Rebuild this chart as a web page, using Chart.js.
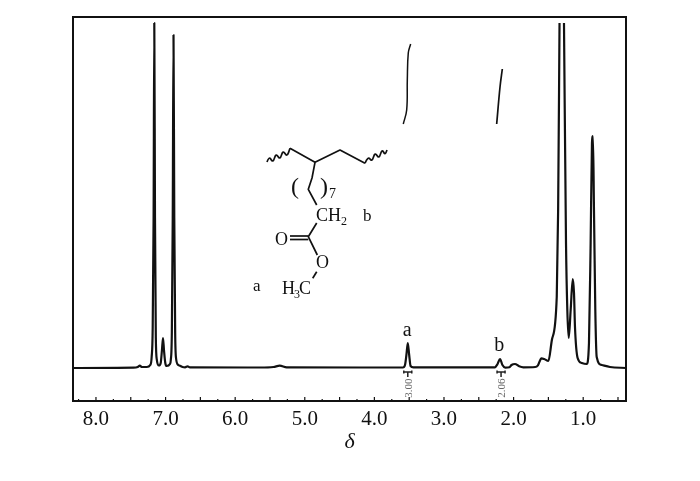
<!DOCTYPE html>
<html><head><meta charset="utf-8">
<style>html,body{margin:0;padding:0;background:#fff}canvas{display:block}</style>
<script src="https://cdn.jsdelivr.net/npm/chart.js@4"></script></head>
<body><canvas id="c" width="700" height="481"></canvas>
<script>
const shiftPpm = [8.33,7.46,7.40,7.37,7.34,7.27,7.22,7.20,7.185,7.172,7.162,7.152,7.14,7.125,7.095,7.07,7.052,7.037,7.023,7.004,6.984,6.937,6.925,6.91,6.897,6.886,6.875,6.862,6.85,6.817,6.793,6.755,6.72,6.683,6.65,5.64,5.45,5.36,5.26,4.2,3.59,3.56,3.54,3.52,3.50,3.48,3.44,2.27,2.23,2.195,2.16,2.12,2.06,2.03,1.98,1.92,1.86,1.69,1.65,1.60,1.56,1.50,1.45,1.38,1.36,1.34,1.31,1.276,1.247,1.228,1.208,1.18,1.15,1.132,1.118,1.08,1.02,0.95,0.917,0.893,0.874,0.86,0.845,0.826,0.806,0.734,0.615,0.385];
const intensity = [0,0.3,1,2.3,1,1,3,11,40,150,345,150,30,8,2.5,5,18,30,18,5,2,4,8,35,150,333,150,35,10,3,2.3,1,0.7,1.7,0.7,0.5,1,2.3,0.7,0.5,0.5,3,13,25,13,2,0.7,0.7,4,9,3,0.3,0.7,3,4,1.7,0.7,1,2.7,9.7,9,7,28,71,158,345,null,345,125,58,30,58,89,75,41,10,5,4,25,125,225,232,158,58,11,3,1,0];
const integralAPpm = [3.585,3.536,3.527,3.513,3.479];
const integralAVal = [244,258,288,315,324];
const integralBPpm = [2.243,2.195,2.162];
const integralBVal = [244,281,299];
const tickValues = [8.25,8,7.75,7.5,7.25,7,6.75,6.5,6.25,6,5.75,5.5,5.25,5,4.75,4.5,4.25,4,3.75,3.5,3.25,3,2.75,2.5,2.25,2,1.75,1.5,1.25,1,0.75,0.5];
const tickLabels = ['8.0','7.0','6.0','5.0','4.0','3.0','2.0','1.0'];
const integralCentres = [3.52,2.18];
const integralTexts = ['3.00','2.06'];
const peakLabels = ['a','b'];
const peakLabelPpm = [3.52,2.2];
const peakLabelHeights = [32,17];

const zip = (a,b)=>a.map((x,i)=>({x,y:b[i]}));
const serif = '"Liberation Serif","Times New Roman",serif';

const decor = {
  id:'decor',
  afterDatasetsDraw(chart){
    const {ctx,chartArea:a,scales:{x,y}} = chart;
    ctx.save();
    ctx.strokeStyle='#111'; ctx.fillStyle='#111'; ctx.lineCap='butt';
    x.ticks.forEach(t=>{
      const px=x.getPixelForValue(t.value), major=(t.value*2)%1===0;
      ctx.lineWidth=1.2; ctx.beginPath(); ctx.moveTo(px,a.bottom); ctx.lineTo(px,a.bottom-(major?4:2)); ctx.stroke();
    });
    ctx.lineWidth=2; ctx.strokeRect(a.left,a.top,a.right-a.left,a.bottom-a.top);
    ctx.font='20px '+serif; ctx.textAlign='center'; ctx.textBaseline='alphabetic';
    peakLabels.forEach((s,i)=>ctx.fillText(s,x.getPixelForValue(peakLabelPpm[i])-0.5,y.getPixelForValue(peakLabelHeights[i])));
    integralCentres.forEach((c,i)=>{
      const px=x.getPixelForValue(c), py=y.getPixelForValue(-4);
      ctx.lineWidth=1.5; ctx.strokeStyle='#222';
      ctx.beginPath(); ctx.moveTo(px-4,py); ctx.lineTo(px+4,py); ctx.moveTo(px,py); ctx.lineTo(px,py+5);
      ctx.moveTo(px-4,py-1.5); ctx.lineTo(px-4,py+1.5); ctx.moveTo(px+4,py-1.5); ctx.lineTo(px+4,py+1.5); ctx.stroke();
      ctx.save(); ctx.translate(px+1,y.getPixelForValue(-20)); ctx.rotate(-Math.PI/2);
      ctx.fillStyle='#666'; ctx.font='11px '+serif; ctx.textBaseline='middle'; ctx.fillText(integralTexts[i],0,0); ctx.restore();
    });
    ctx.strokeStyle='#111'; ctx.lineWidth=1.7; ctx.lineJoin='round';
    const poly=p=>{ctx.beginPath();p.forEach((q,i)=>i?ctx.lineTo(q[0],q[1]):ctx.moveTo(q[0],q[1]));ctx.stroke();};
    const wave=p=>{ctx.beginPath();ctx.moveTo(p[0][0],p[0][1]);
      for(let i=1;i<p.length-1;i++){ctx.quadraticCurveTo(p[i][0],p[i][1],(p[i][0]+p[i+1][0])/2,(p[i][1]+p[i+1][1])/2);}
      const l=p[p.length-1];ctx.lineTo(l[0],l[1]);ctx.stroke();};
    poly([[290,148.3],[315,162.3],[340,150],[365,163.3]]);
    poly([[315,162.3],[312,178],[308.3,189.3],[316.7,205]]);
    poly([[316.7,223],[308.3,236.7],[317.3,255]]);
    poly([[290,236],[308.3,236]]);
    poly([[290,239.5],[308.3,239.5]]);
    poly([[316.7,271.7],[312.7,278.3]]);
    wave([[267,162],[269,156],[273,163],[276,153],[280,160],[283,150],[287,157],[290,148.3]]);
    wave([[365,163.3],[368,156],[372,162],[375,152],[379,159],[382,149],[385,155],[387,150]]);
    ctx.textAlign='left'; ctx.textBaseline='alphabetic';
    ctx.font='18px '+serif;
    ctx.fillText('CH',316,220.5);
    ctx.fillText('O',275,245);
    ctx.fillText('O',316,268);
    ctx.fillText('H',282,294);
    ctx.fillText('C',299,294);
    ctx.font='12px '+serif;
    ctx.fillText('2',341,224.5);
    ctx.fillText('3',294,298);
    ctx.font='17px '+serif;
    ctx.fillText('a',253,291);
    ctx.fillText('b',363,221);
    ctx.font='14px '+serif;
    ctx.fillText('7',329,198);
    ctx.font='24px '+serif;
    ctx.fillText('(',291,194);
    ctx.fillText(')',320,194);
    ctx.restore();
  }
};

new Chart(document.getElementById('c'),{
  type:'line',
  data:{datasets:[
    {data:zip(shiftPpm,intensity),borderColor:'#111',borderWidth:2.2,pointRadius:0,cubicInterpolationMode:'monotone',borderJoinStyle:'round',spanGaps:false},
    {data:zip(integralAPpm,integralAVal),borderColor:'#111',borderWidth:1.5,pointRadius:0,tension:0.4,borderJoinStyle:'round'},
    {data:zip(integralBPpm,integralBVal),borderColor:'#111',borderWidth:1.7,pointRadius:0,tension:0.4,borderJoinStyle:'round'}
  ]},
  options:{
    responsive:false,animation:false,parsing:false,normalized:false,
    layout:{padding:{left:73,right:74,top:17,bottom:26}},
    plugins:{legend:{display:false},tooltip:{enabled:false}},
    scales:{
      x:{type:'linear',reverse:true,min:0.385,max:8.33,
        afterBuildTicks(s){s.ticks=tickValues.map(v=>({value:v}));},
        afterFit(s){s.height=54;},
        grid:{display:false,drawTicks:false},border:{display:false},
        ticks:{autoSkip:false,maxRotation:0,padding:6,color:'#111',font:{family:serif,size:21},
          callback(v){const s=Number(v).toFixed(1);return tickLabels.includes(s)?s:'';}},
        title:{display:true,text:'δ',color:'#111',font:{family:serif,size:22,style:'italic'},padding:{top:2,bottom:0}}
      },
      y:{display:false,min:-33,max:351}
    }
  },
  plugins:[decor]
});
</script></body></html>
